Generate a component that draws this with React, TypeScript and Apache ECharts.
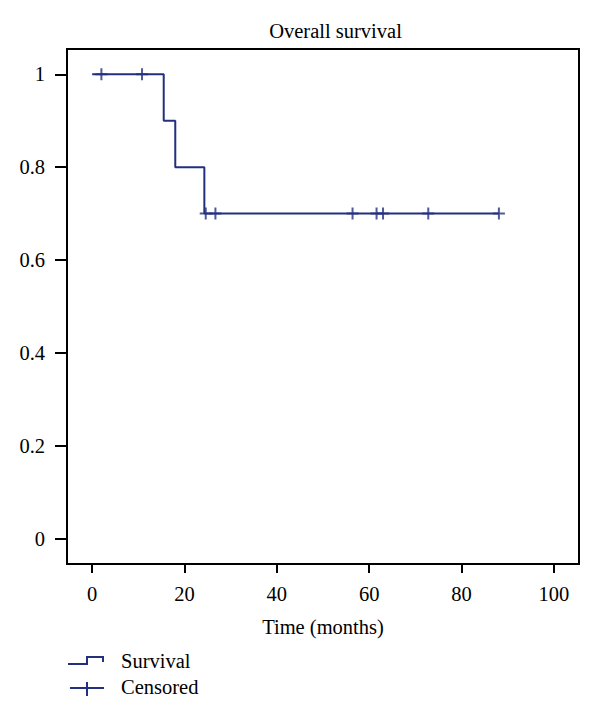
import React, { useEffect, useRef } from "react";
import * as echarts from "echarts";

const NAVY = "#23307f";
const FONT = "'Liberation Serif', 'Times New Roman', serif";
const FS = 20.5;

// Kaplan-Meier step points (time in months, survival probability)
const survTimes = [0, 15.5, 18.0, 24.3, 88.1];
const survProbs = [1, 0.9, 0.8, 0.7, 0.7];

// Censored observations
const censorTimes = [2.0, 10.8, 24.6, 26.7, 56.4, 61.6, 63.0, 72.8, 88.1];
const censorProbs = [1, 1, 0.7, 0.7, 0.7, 0.7, 0.7, 0.7, 0.7];

const xTicks = [0, 20, 40, 60, 80, 100];
const yTicks = [0, 0.2, 0.4, 0.6, 0.8, 1];

const titleText = "Overall survival";
const xName = "Time (months)";
const legendNames = ["Survival", "Censored"];

const PLUS = "path://M-1,-6H1V-1H6V1H1V6H-1V1H-6V-1H-1Z";

export default function App() {
  const ref = useRef<HTMLDivElement>(null);
  useEffect(() => {
    if (!ref.current) return;
    const chart = echarts.init(ref.current, null, { renderer: "svg" });
    chart.setOption({
      animation: false,
      backgroundColor: "#fff",
      textStyle: { fontFamily: FONT },
      grid: {
        left: 67,
        right: 21,
        top: 49,
        bottom: 157,
        show: true,
        borderColor: "#000",
        borderWidth: 2,
        backgroundColor: "transparent",
      },
      xAxis: {
        type: "value",
        min: -5.45,
        max: 105.45,
        splitLine: { show: false },
        axisLine: { show: true, onZero: false, lineStyle: { color: "#000", width: 2 } },
        axisTick: {
          show: true,
          inside: false,
          length: 9,
          lineStyle: { color: "#000", width: 2 },
          customValues: xTicks,
        },
        axisLabel: {
          customValues: xTicks,
          fontFamily: FONT,
          fontSize: FS,
          color: "#000",
          margin: 19,
          formatter: (v: number) => String(v),
        },
        name: xName,
        nameLocation: "middle",
        nameGap: 52,
        nameTextStyle: { fontFamily: FONT, fontSize: FS, color: "#000" },
      },
      yAxis: {
        type: "value",
        min: -0.0545,
        max: 1.0545,
        splitLine: { show: false },
        axisLine: { show: true, onZero: false, lineStyle: { color: "#000", width: 2 } },
        axisTick: {
          show: true,
          inside: false,
          length: 12,
          lineStyle: { color: "#000", width: 2 },
          customValues: yTicks,
        },
        axisLabel: {
          customValues: yTicks,
          fontFamily: FONT,
          fontSize: FS,
          color: "#000",
          margin: 22,
          formatter: (v: number) => String(v),
        },
      },
      series: [
        {
          type: "line",
          name: legendNames[0],
          step: "end",
          showSymbol: false,
          data: survTimes.map((t, i) => [t, survProbs[i]]),
          lineStyle: { color: NAVY, width: 2 },
          itemStyle: { color: NAVY },
          z: 2,
        },
        {
          type: "scatter",
          name: legendNames[1],
          symbol: PLUS,
          symbolSize: 12,
          data: censorTimes.map((t, i) => [t, censorProbs[i]]),
          itemStyle: { color: NAVY },
          z: 3,
        },
      ],
      graphic: [
        {
          type: "text",
          x: 335.5,
          y: 31,
          style: {
            text: titleText,
            fontFamily: FONT,
            fontSize: FS,
            fill: "#000",
            textAlign: "center",
            textVerticalAlign: "middle",
          },
        },
        {
          type: "polyline",
          shape: {
            points: [
              [68, 664],
              [87, 664],
              [87, 657],
              [103, 657],
              [103, 662],
            ],
          },
          style: { stroke: NAVY, lineWidth: 2, fill: "none" },
        },
        {
          type: "text",
          x: 121,
          y: 661,
          style: {
            text: legendNames[0],
            fontFamily: FONT,
            fontSize: FS,
            fill: "#000",
            textVerticalAlign: "middle",
          },
        },
        {
          type: "line",
          shape: { x1: 70, y1: 688, x2: 104, y2: 688 },
          style: { stroke: NAVY, lineWidth: 2 },
        },
        {
          type: "line",
          shape: { x1: 87, y1: 682, x2: 87, y2: 696 },
          style: { stroke: NAVY, lineWidth: 2 },
        },
        {
          type: "text",
          x: 121,
          y: 687,
          style: {
            text: legendNames[1],
            fontFamily: FONT,
            fontSize: FS,
            fill: "#000",
            textVerticalAlign: "middle",
          },
        },
      ],
    });
    return () => chart.dispose();
  }, []);
  return <div ref={ref} style={{ width: 600, height: 721, position: "absolute", left: 0, top: 0 }} />;
}
